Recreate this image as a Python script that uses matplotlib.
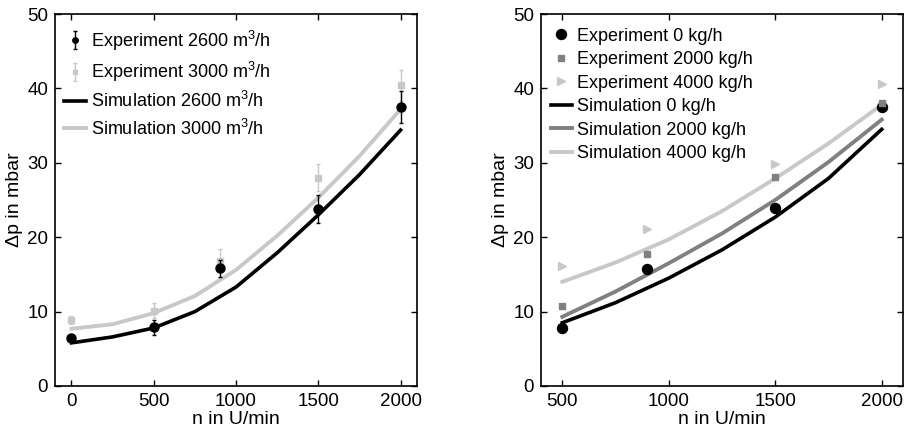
import matplotlib
matplotlib.use("Agg")
import matplotlib.pyplot as plt

plt.rcParams["font.family"] = ["Liberation Sans", "DejaVu Sans"]
plt.rcParams["font.size"] = 13.5
plt.rcParams["mathtext.default"] = "regular"

# 左图：体积流量
n_exp_l = [0, 500, 900, 1500, 2000]
dp_2600 = [6.5, 7.9, 15.8, 23.8, 37.5]
err_2600 = [0.4, 1.0, 1.2, 1.9, 2.1]
dp_3000 = [8.9, 10.1, 16.8, 28.0, 40.4]
err_3000 = [0.5, 1.0, 1.6, 1.85, 2.1]

n_sim_l = [0, 250, 500, 750, 1000, 1250, 1500, 1750, 2000]
sim_2600 = [5.8, 6.6, 7.8, 10.0, 13.3, 17.9, 23.0, 28.4, 34.4]
sim_3000 = [7.7, 8.3, 9.8, 12.1, 15.6, 20.2, 25.3, 30.9, 37.2]

# 右图：质量流量
n_exp_r = [500, 900, 1500, 2000]
dp_0 = [7.75, 15.7, 23.9, 37.5]
dp_2000 = [10.7, 17.7, 28.05, 38.1]
dp_4000 = [16.1, 21.1, 29.9, 40.6]

n_sim_r = [500, 750, 1000, 1250, 1500, 1750, 2000]
sim_0 = [8.5, 11.2, 14.5, 18.3, 22.7, 27.9, 34.5]
sim_2000 = [9.3, 12.7, 16.5, 20.5, 25.0, 30.1, 35.8]
sim_4000 = [14.0, 16.6, 19.7, 23.5, 27.9, 32.6, 37.8]

black = "#000000"
mid = "#808080"
light = "#c8c8c8"

fig = plt.figure(figsize=(9.05, 4.42), dpi=100)
ax1 = fig.add_axes([0.0608, 0.1267, 0.4, 0.8416])
ax2 = fig.add_axes([0.5978, 0.1267, 0.4, 0.8416])

e1 = ax1.errorbar(n_exp_l, dp_2600, yerr=err_2600, fmt="o", color=black, ms=6.5,
                  capsize=1.7, elinewidth=1, zorder=4)
e2 = ax1.errorbar(n_exp_l, dp_3000, yerr=err_3000, fmt="s", color=light, ms=5,
                  capsize=1.7, elinewidth=1, zorder=3)
l1, = ax1.plot(n_sim_l, sim_2600, color=black, lw=2.6, zorder=2)
l2, = ax1.plot(n_sim_l, sim_3000, color=light, lw=2.8, zorder=1)
ax1.set_xlim(-100, 2100)
ax1.set_xticks([0, 500, 1000, 1500, 2000])
ax1.legend([e1, e2, l1, l2],
           ["Experiment 2600 m$^3$/h", "Experiment 3000 m$^3$/h",
            "Simulation 2600 m$^3$/h", "Simulation 3000 m$^3$/h"],
           loc="upper left", bbox_to_anchor=(-0.014, 1), frameon=False,
           fontsize=13, handlelength=1.2, handletextpad=0.3, labelspacing=0.4,
           borderaxespad=0.5, borderpad=0.3, markerscale=0.6)

p1, = ax2.plot(n_exp_r, dp_0, "o", color=black, ms=7.2, zorder=4)
p2, = ax2.plot(n_exp_r, dp_2000, "s", color=mid, ms=4.5, zorder=4)
p3, = ax2.plot(n_exp_r, dp_4000, ">", color=light, ms=5.5, zorder=4)
s1, = ax2.plot(n_sim_r, sim_0, color=black, lw=2.6)
s2, = ax2.plot(n_sim_r, sim_2000, color=mid, lw=2.8)
s3, = ax2.plot(n_sim_r, sim_4000, color=light, lw=2.8)
ax2.set_xlim(400, 2100)
ax2.set_xticks([500, 1000, 1500, 2000])
ax2.legend([p1, p2, p3, s1, s2, s3],
           ["Experiment 0 kg/h", "Experiment 2000 kg/h", "Experiment 4000 kg/h",
            "Simulation 0 kg/h", "Simulation 2000 kg/h", "Simulation 4000 kg/h"],
           loc="upper left", bbox_to_anchor=(-0.011, 1), frameon=False,
           fontsize=13, handlelength=1.2, handletextpad=0.25, labelspacing=0.36,
           borderaxespad=0.45, borderpad=0.3)

for ax in (ax1, ax2):
    ax.set_ylim(0, 50)
    ax.set_yticks([0, 10, 20, 30, 40, 50])
    ax.set_xlabel("n in U/min", fontsize=14, labelpad=1)
    ax.set_ylabel("Δp in mbar", fontsize=14, labelpad=3)
    ax.tick_params(direction="in", top=True, right=True, length=4, width=1,
                   pad=5, labelsize=13.5)
    for s in ax.spines.values():
        s.set_linewidth(1.2)

fig.savefig("out.png", dpi=100)
